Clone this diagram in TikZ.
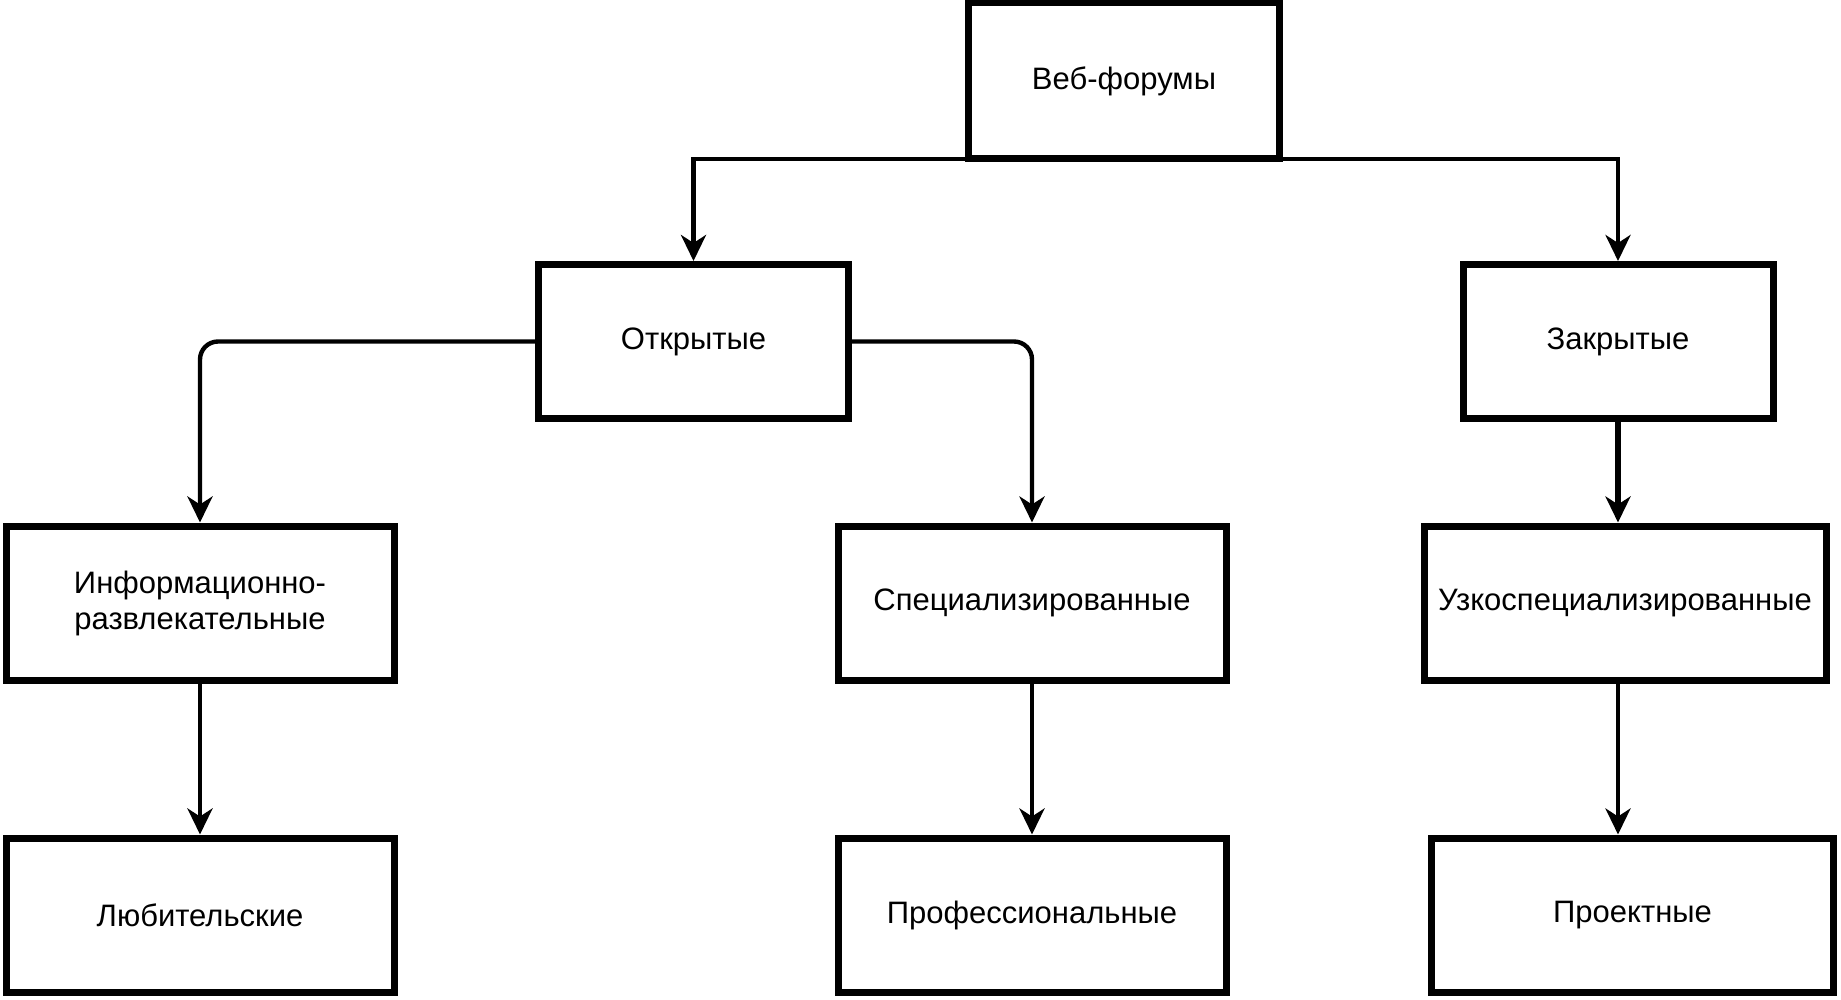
\documentclass[tikz,border=0pt]{standalone}
\usepackage{fontspec}
\setmainfont{Liberation Sans}
\usetikzlibrary{arrows.meta}
\begin{document}
\begin{tikzpicture}[x=0.5pt,y=-0.5pt,
  box/.style={draw=black,line width=3.5pt,fill=white,inner sep=2pt,align=center,
    font=\fontsize{15.5}{18}\selectfont,minimum height=77pt},
  conn/.style={line width=2.2pt,-{Stealth[length=13pt,width=12.5pt,inset=4pt]}},
  rconn/.style={conn,rounded corners=9pt}]
\useasboundingbox[fill=white] (0,0) rectangle (1841,1000);
\node[box,minimum width=155.5pt,minimum height=78pt] (web) at (1124,81) {Веб-форумы};
\node[box,minimum width=155pt] (open) at (693.5,341.5) {Открытые};
\node[box,minimum width=155pt] (closed) at (1618,341.5) {Закрытые};
\node[box,minimum width=194pt] (info) at (200,603) {Информационно-\\развлекательные};
\node[box,minimum width=194pt] (spec) at (1032,603) {Специализированные};
\node[box,minimum width=201pt] (narrow) at (1625,603) {Узкоспециализированные};
\node[box,minimum width=194pt] (amat) at (200,915) {Любительские};
\node[box,minimum width=194pt] (prof) at (1032,915) {Профессиональные};
\node[box,minimum width=201pt] (proj) at (1632.5,915) {Проектные};
\coordinate (wl) at ([xshift=1.75pt,yshift=1.8pt]web.south west);
\coordinate (wr) at ([xshift=-1.75pt,yshift=1.8pt]web.south east);
\draw[conn] (wl) -| (open.north);
\draw[conn] (wr) -| (closed.north);
\draw[rconn] (open.west) -| (info.north);
\draw[rconn] (open.east) -| (spec.north);
\draw[conn,line width=2.8pt] (closed.south) -- (closed.south |- narrow.north);
\draw[conn] (info.south) -- (amat.north);
\draw[conn] (spec.south) -- (prof.north);
\coordinate (ns) at (closed.south |- narrow.south);
\draw[conn] (ns) -- (closed.south |- proj.north);
\end{tikzpicture}
\end{document}
